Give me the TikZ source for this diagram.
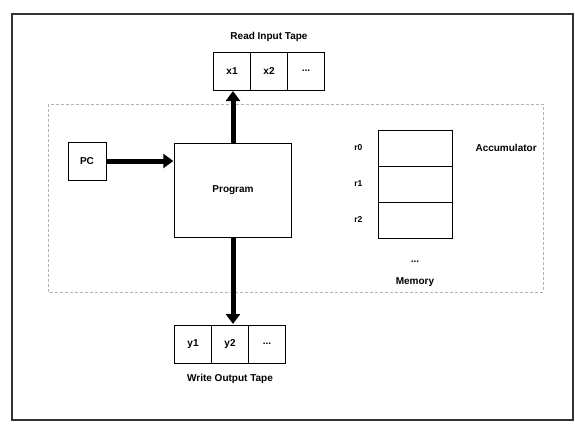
\documentclass[tikz,border=0pt]{standalone}
\usepackage{fontspec}
\setmainfont{Liberation Sans}
\usetikzlibrary{arrows.meta,positioning}

\begin{document}
\begin{tikzpicture}[x=1pt,y=-1pt,font=\fontsize{10}{12}\selectfont\bfseries,
                    cell/.style={rectangle, draw, outer sep=0pt, minimum width=37pt, minimum height=38pt, inner sep=0pt},
                    reg/.style={rectangle, draw, outer sep=0pt, minimum width=74pt, minimum height=36pt},
                    block/.style={rectangle, draw, align=center},
                    fat/.style={line width=5pt, -{Triangle[width=14pt,length=10pt]}, shorten >=1pt}]
  \useasboundingbox (0,0) rectangle (575,426);
  % Frames
  \draw[line width=1.3pt, black!80] (12,14) rectangle (573,420);
  \draw[densely dashed, black!30] (48,104) rectangle (543,292);

  % Nodes
  \node[block, minimum width=38pt, minimum height=38pt] (pc) at (87,161) {PC};
  \node[block, minimum width=117pt, minimum height=94pt] (prog) at (233,190) {Program};

  \node[cell] (in1) at (232,71) {x1};
  \node[cell, right=0pt of in1] (in2) {x2};
  \node[cell, right=0pt of in2] (in3) {...};
  \node[above=7pt of in2] (inlbl) {Read Input Tape};

  \node[cell] (out1) at (193,344) {y1};
  \node[cell, right=0pt of out1] (out2) {y2};
  \node[cell, right=0pt of out2] (out3) {...};
  \node[below=8pt of out2] (outlbl) {Write Output Tape};

  \node[reg] (m0) at (415,148) {};
  \node[reg, below=0pt of m0] (m1) {};
  \node[reg, below=0pt of m1] (m2) {};
  \node[left=12pt of m0, font=\fontsize{8.5}{10}\selectfont\bfseries] (r0) {r0};
  \node[left=12pt of m1, font=\fontsize{8.5}{10}\selectfont\bfseries] (r1) {r1};
  \node[left=12pt of m2, font=\fontsize{8.5}{10}\selectfont\bfseries] (r2) {r2};
  \node[right=20pt of m0] (acc) {Accumulator};
  \node[below=19pt of m2] (dots) {...};
  \node[below=9pt of dots] (mem) {Memory};

  % Edges
  \draw[fat] (pc.east) -- (pc.east -| prog.west);
  \draw[fat] (prog.north) -- (prog.north |- in1.south);
  \draw[fat] (prog.south) -- (prog.south |- out1.north);
\end{tikzpicture}
\end{document}
